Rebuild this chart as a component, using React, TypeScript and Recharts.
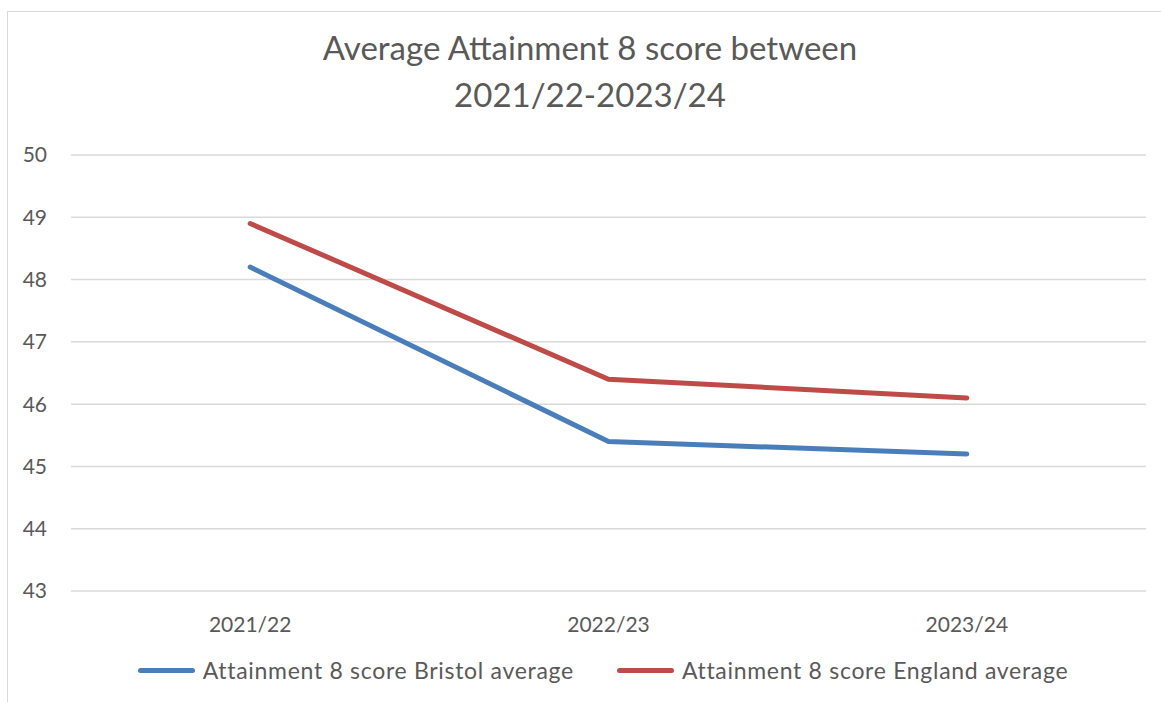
import { CartesianGrid, Line, LineChart, XAxis, YAxis } from 'recharts';

const years = ['2021/22', '2022/23', '2023/24'];
const bristolAverage = [48.2, 45.4, 45.2];
const englandAverage = [48.9, 46.4, 46.1];
const yTicks = [43, 44, 45, 46, 47, 48, 49, 50];

const seriesInfo = [
  { key: 'bristol', name: 'Attainment 8 score Bristol average', color: '#4a7ebb' },
  { key: 'england', name: 'Attainment 8 score England average', color: '#be4b48' },
];

const data = years.map((year, i) => ({
  year,
  bristol: bristolAverage[i],
  england: englandAverage[i],
}));

const FONT = 'Lato, "Open Sans", sans-serif';
const TEXT = '#595959';

function LegendRow() {
  return (
    <div
      style={{
        position: 'absolute',
        left: 0,
        top: 656,
        width: 1206,
        display: 'flex',
        justifyContent: 'center',
        gap: 43,
        fontFamily: FONT,
        fontSize: 23,
        color: TEXT,
      }}
    >
      {seriesInfo.map((s) => (
        <div key={s.key} style={{ display: 'flex', alignItems: 'center' }}>
          <span
            style={{
              display: 'inline-block',
              width: 57,
              height: 5,
              borderRadius: 3,
              background: s.color,
              marginRight: 8,
            }}
          />
          <span style={{ letterSpacing: 0.7 }}>{s.name}</span>
        </div>
      ))}
    </div>
  );
}

export default function App() {
  return (
    <div style={{ position: 'absolute', left: 0, top: 0, width: 1161, height: 702, background: '#fff', overflow: 'hidden' }}>
      <div
        style={{
          position: 'absolute',
          left: 7,
          top: 11,
          width: 1170,
          height: 700,
          border: '1px solid #d9d9d9',
        }}
      />
      <div
        style={{
          position: 'absolute',
          left: 0,
          top: 24,
          width: 1180,
          textAlign: 'center',
          fontFamily: FONT,
          fontSize: 33,
          lineHeight: '47px',
          color: TEXT,
        }}
      >
        Average Attainment 8 score between
        <br />
        2021/22-2023/24
      </div>
      <div style={{ position: 'absolute', left: 0, top: 0 }}>
        <LineChart width={1161} height={702} data={data} margin={{ top: 155, right: 15, bottom: 81, left: 0 }}>
          <CartesianGrid vertical={false} stroke="#d9d9d9" strokeWidth={1.5} />
          <XAxis
            dataKey="year"
            scale="band"
            height={30}
            axisLine={false}
            tickLine={false}
            tickSize={0}
            tickMargin={26}
            tick={{ fill: TEXT, fontSize: 21, fontFamily: FONT }}
          />
          <YAxis
            width={71}
            domain={[43, 50]}
            ticks={yTicks}
            axisLine={false}
            tickLine={false}
            tickSize={0}
            tickMargin={24}
            tick={{ fill: TEXT, fontSize: 21, fontFamily: FONT }}
          />
          {seriesInfo.map((s) => (
            <Line
              key={s.key}
              dataKey={s.key}
              name={s.name}
              stroke={s.color}
              strokeWidth={5}
              dot={false}
              activeDot={false}
              type="linear"
              strokeLinecap="round"
              isAnimationActive={false}
            />
          ))}
        </LineChart>
      </div>
      <LegendRow />
    </div>
  );
}
